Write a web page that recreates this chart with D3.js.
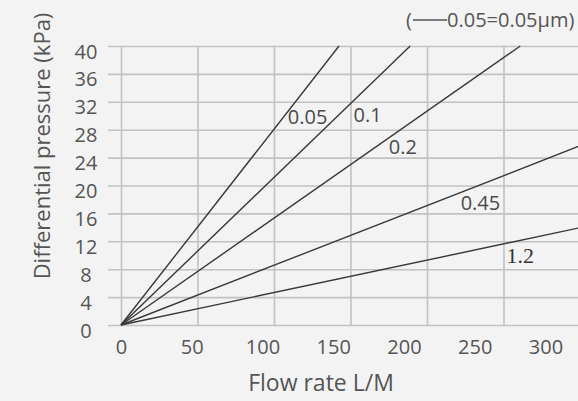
<!DOCTYPE html>
<html>
<head>
<meta charset="utf-8">
<script src="https://cdn.jsdelivr.net/npm/d3@7"></script>
<style>
  body { margin: 0; background: #f3f3f3; }
  svg { display: block; font-family: "Open Sans", sans-serif; }
</style>
</head>
<body>
<div id="chart"></div>
<script>
// Data ---------------------------------------------------------------------------
var grades = ["0.05", "0.1", "0.2", "0.45", "1.2"];
var flowValues = [[0, 142.5], [0, 189], [0, 261], [0, 299], [0, 299]];   // L/M
var pressureValues = [[0, 40], [0, 40], [0, 40], [0, 25.6], [0, 13.9]];   // kPa
var xTicks = [0, 50, 100, 150, 200, 250, 300];
var yTicks = [0, 4, 8, 12, 16, 20, 24, 28, 32, 36, 40];
// where each grade label sits, in data units
var labelFlow = [109, 152, 175, 222, 252];
var labelPressure = [28.8, 29.1, 24.5, 16.5, 8.9];

var width = 578, height = 401;

var svg = d3.select("#chart").append("svg")
  .attr("width", width)
  .attr("height", height);

svg.append("rect")
  .attr("width", width)
  .attr("height", height)
  .attr("fill", "#f3f3f3");

var x = d3.scaleLinear().domain([0, 300]).range([121, 580]);
var xLabel = d3.scaleLinear().domain([0, 300]).range([121, 545.5]);
var y = d3.scaleLinear().domain([0, 40]).range([325, 46]);

// grid --------------------------------------------------------------------------
var hGrid = svg.append("g")
  .attr("transform", "translate(108,0)")
  .call(d3.axisRight(y).tickValues(yTicks).tickSize(width - 108).tickFormat(""));
hGrid.select(".domain").remove();

var vGrid = svg.append("g")
  .attr("transform", "translate(0," + y(0) + ")")
  .call(d3.axisBottom(x).tickValues(xTicks).tickSize(-(y(0) - y(40))).tickFormat(""));
vGrid.select(".domain").remove();

svg.selectAll(".tick line")
  .attr("stroke", "#c2c2c2")
  .attr("stroke-width", 1.6);

// tick labels -------------------------------------------------------------------
var yAxis = svg.append("g")
  .attr("transform", "translate(86,0)")
  .call(d3.axisLeft(y).tickValues(yTicks).tickSize(0).tickPadding(0));
yAxis.select(".domain").remove();
yAxis.selectAll("text")
  .attr("text-anchor", "middle")
  .attr("dy", "0.6em")
  .attr("font-family", "Open Sans")
  .attr("font-size", 20)
  .attr("fill", "#555");

var xAxis = svg.append("g")
  .attr("transform", "translate(0," + y(0) + ")")
  .call(d3.axisBottom(xLabel).tickValues(xTicks).tickSize(0).tickPadding(0));
xAxis.select(".domain").remove();
xAxis.selectAll("text")
  .attr("y", 29)
  .attr("dy", 0)
  .attr("font-family", "Open Sans")
  .attr("font-size", 20)
  .attr("fill", "#555");

// curves ------------------------------------------------------------------------
var line = d3.line()
  .x(function(d) { return x(d[0]); })
  .y(function(d) { return y(d[1]); });

svg.selectAll(".curve")
  .data(grades)
  .enter()
  .append("path")
  .attr("class", "curve")
  .attr("d", function(d, i) {
    return line(d3.zip(flowValues[i], pressureValues[i]));
  })
  .attr("fill", "none")
  .attr("stroke", "#383838")
  .attr("stroke-width", 1.4);

svg.selectAll(".grade")
  .data(grades)
  .enter()
  .append("text")
  .attr("class", "grade")
  .attr("x", function(d, i) { return x(labelFlow[i]); })
  .attr("y", function(d, i) { return y(labelPressure[i]); })
  .attr("font-family", function(d) { return d == "1.2" ? "Liberation Serif" : "Open Sans"; })
  .attr("font-size", function(d) { return d == "1.2" ? 22 : 20; })
  .attr("fill", function(d) { return d == "1.2" ? "#333" : "#4a4a4a"; })
  .text(function(d) { return d; });

// titles ------------------------------------------------------------------------
svg.append("text")
  .attr("x", 321)
  .attr("y", 391)
  .attr("text-anchor", "middle")
  .attr("font-size", 23)
  .attr("fill", "#555")
  .text("Flow rate L/M");

svg.append("text")
  .attr("transform", "translate(50,146) rotate(-90)")
  .attr("text-anchor", "middle")
  .attr("font-size", 22)
  .attr("fill", "#555")
  .text("Differential pressure (kPa)");

// unit note top right
svg.append("text")
  .attr("x", 406)
  .attr("y", 27)
  .attr("font-size", 20)
  .attr("fill", "#555")
  .text("(");
svg.append("line")
  .attr("x1", 413).attr("x2", 447)
  .attr("y1", 20).attr("y2", 20)
  .attr("stroke", "#555")
  .attr("stroke-width", 1.5);
svg.append("text")
  .attr("x", 447)
  .attr("y", 27)
  .attr("font-size", 20)
  .attr("fill", "#555")
  .text("0.05=0.05μm)");
</script>
</body>
</html>
